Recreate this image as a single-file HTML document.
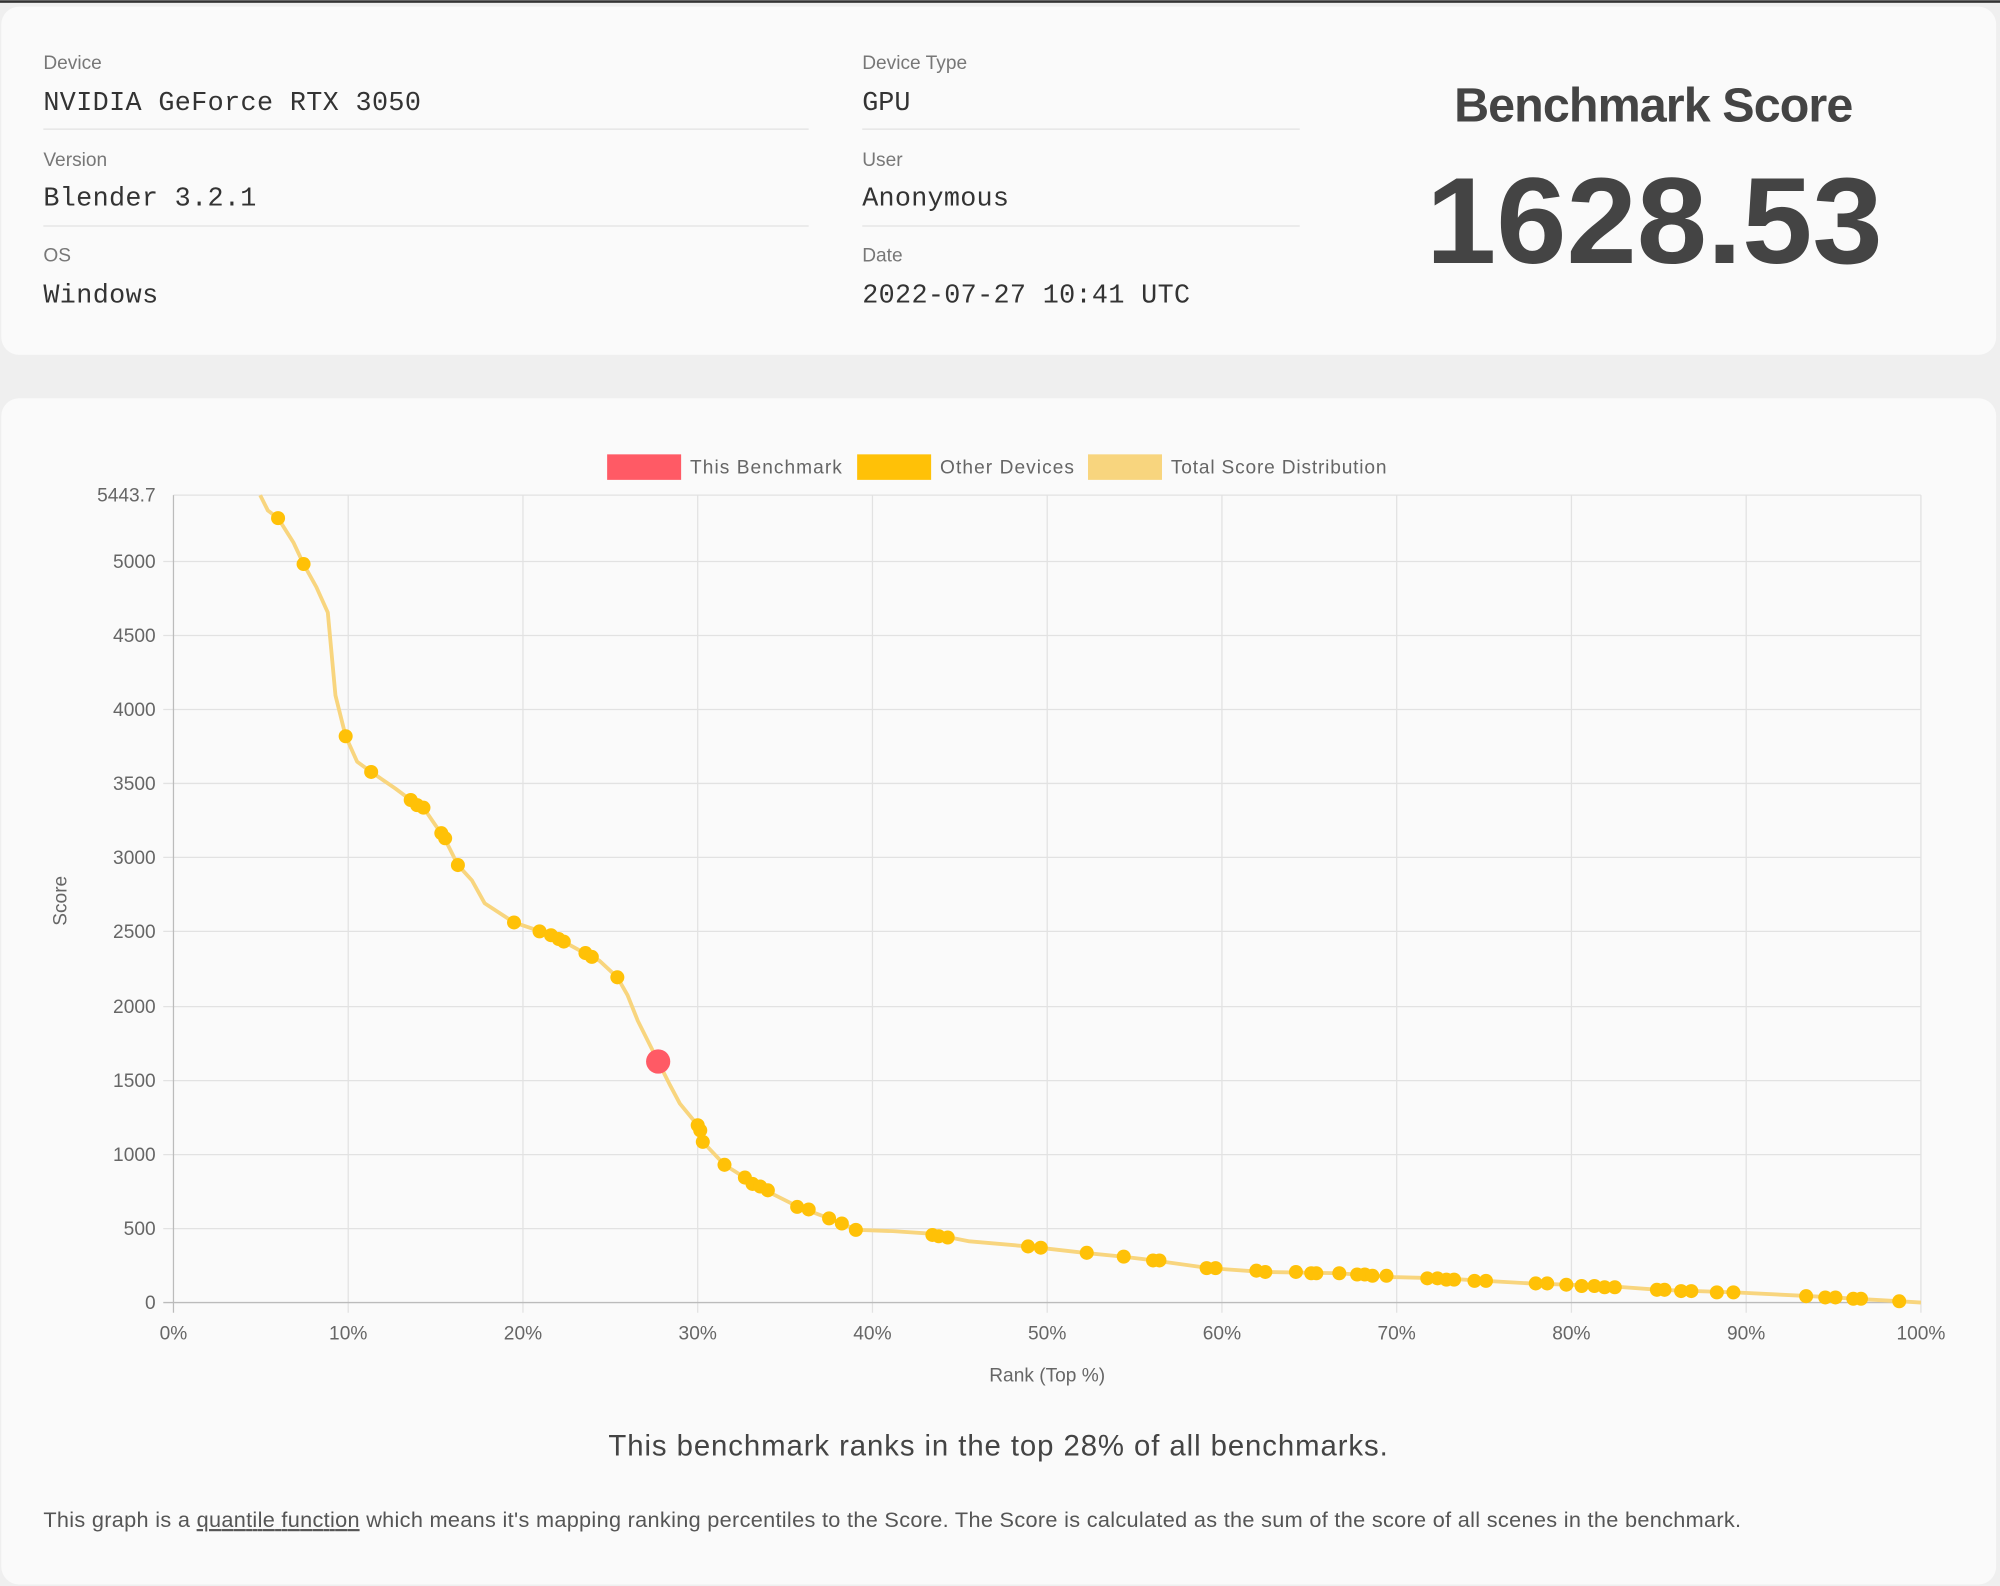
<!DOCTYPE html>
<html><head><meta charset="utf-8"><style>
html,body{margin:0;padding:0;background:#efefef;}
svg{display:block}
.lbl{font-family:"Liberation Sans",sans-serif;font-size:15px;fill:#777}
.val{font-family:"Liberation Mono",monospace;font-size:21px;fill:#333}
.tick{font-family:"Liberation Sans",sans-serif;font-size:15px;fill:#666}
</style></head><body>
<svg width="2000" height="1586" viewBox="0 0 1568 1243" xmlns="http://www.w3.org/2000/svg">
<rect x="0" y="0" width="1568" height="1243" fill="#efefef"/>
<rect x="0" y="0" width="1568" height="2" fill="#333"/>
<rect x="1" y="5" width="1564" height="273" rx="14" fill="#fafafa"/>
<rect x="1" y="312" width="1564" height="930" rx="14" fill="#fafafa"/>
<text class="lbl" x="34" y="54">Device</text>
<text class="val" x="34" y="86" textLength="296">NVIDIA GeForce RTX 3050</text>
<line x1="34" y1="101" x2="634" y2="101" stroke="#e2e2e2"/>
<text class="lbl" x="34" y="130">Version</text>
<text class="val" x="34" y="161" textLength="167">Blender 3.2.1</text>
<line x1="34" y1="177" x2="634" y2="177" stroke="#e2e2e2"/>
<text class="lbl" x="34" y="205">OS</text>
<text class="val" x="34" y="237" textLength="90">Windows</text>
<text class="lbl" x="676" y="54">Device Type</text>
<text class="val" x="676" y="86">GPU</text>
<line x1="676" y1="101" x2="1019" y2="101" stroke="#e2e2e2"/>
<text class="lbl" x="676" y="130">User</text>
<text class="val" x="676" y="161" textLength="115">Anonymous</text>
<line x1="676" y1="177" x2="1019" y2="177" stroke="#e2e2e2"/>
<text class="lbl" x="676" y="205">Date</text>
<text class="val" x="676" y="237" textLength="257">2022-07-27 10:41 UTC</text>
<text x="1140" y="95" textLength="313" font-family="Liberation Sans,sans-serif" font-weight="bold" font-size="38" fill="#444">Benchmark Score</text>
<text x="1118" y="206" textLength="358" lengthAdjust="spacingAndGlyphs" font-family="Liberation Sans,sans-serif" font-weight="bold" font-size="96" fill="#444">1628.53</text>

<!-- legend -->
<rect x="476" y="356" width="58" height="20" fill="#ff5a65"/>
<text class="tick" x="541" y="371" font-size="16" textLength="119">This Benchmark</text>
<rect x="672" y="356" width="58" height="20" fill="#ffc107"/>
<text class="tick" x="737" y="371" font-size="16" textLength="105">Other Devices</text>
<rect x="853" y="356" width="58" height="20" fill="#f8d57e"/>
<text class="tick" x="918" y="371" font-size="16" textLength="169">Total Score Distribution</text>

<g stroke="#e2e2e2" stroke-width="1">
<line x1="136" y1="388" x2="1506" y2="388"/>
<line x1="128" y1="440" x2="1506" y2="440"/>
<line x1="128" y1="498" x2="1506" y2="498"/>
<line x1="128" y1="556" x2="1506" y2="556"/>
<line x1="128" y1="614" x2="1506" y2="614"/>
<line x1="128" y1="672" x2="1506" y2="672"/>
<line x1="128" y1="730" x2="1506" y2="730"/>
<line x1="128" y1="789" x2="1506" y2="789"/>
<line x1="128" y1="847" x2="1506" y2="847"/>
<line x1="128" y1="905" x2="1506" y2="905"/>
<line x1="128" y1="963" x2="1506" y2="963"/>
<line x1="273" y1="388" x2="273" y2="1029"/>
<line x1="410" y1="388" x2="410" y2="1029"/>
<line x1="547" y1="388" x2="547" y2="1029"/>
<line x1="684" y1="388" x2="684" y2="1029"/>
<line x1="821" y1="388" x2="821" y2="1029"/>
<line x1="958" y1="388" x2="958" y2="1029"/>
<line x1="1095" y1="388" x2="1095" y2="1029"/>
<line x1="1232" y1="388" x2="1232" y2="1029"/>
<line x1="1369" y1="388" x2="1369" y2="1029"/>
<line x1="1506" y1="388" x2="1506" y2="1029"/>
</g>
<line x1="136" y1="388" x2="136" y2="1029" stroke="#bbb"/>
<line x1="128" y1="1021" x2="1506" y2="1021" stroke="#bbb"/>
<g class="tick" text-anchor="end">
<text x="122" y="393">5443.7</text><text x="122" y="445">5000</text><text x="122" y="503">4500</text>
<text x="122" y="561">4000</text><text x="122" y="619">3500</text><text x="122" y="677">3000</text>
<text x="122" y="735">2500</text><text x="122" y="794">2000</text><text x="122" y="852">1500</text>
<text x="122" y="910">1000</text><text x="122" y="968">500</text><text x="122" y="1026">0</text>
</g>
<g class="tick" text-anchor="middle">
<text x="136" y="1050">0%</text><text x="273" y="1050">10%</text><text x="410" y="1050">20%</text>
<text x="547" y="1050">30%</text><text x="684" y="1050">40%</text><text x="821" y="1050">50%</text>
<text x="958" y="1050">60%</text><text x="1095" y="1050">70%</text><text x="1232" y="1050">80%</text>
<text x="1369" y="1050">90%</text><text x="1506" y="1050">100%</text>
<text x="821" y="1083">Rank (Top %)</text>
</g>
<text class="tick" transform="translate(52,706) rotate(-90)" text-anchor="middle">Score</text>

<polyline fill="none" stroke="#f8d57e" stroke-width="3" stroke-linejoin="round" points="204,388 210,400 218,406 230,425 238,442 248,460 257,480 263,545 271,577 280,597 291,605 310,618 322,627 332,633 345,652 350,660 359,678 370,690 380,708 403,723 424,730 440,737 460,748 470,753 484,766 492,780 500,800 510,820 516,832 525,850 533,865 547,882 551,895 568,913 584,923 600,933 626,946 650,955 672,964 700,965 730,967 760,973 806,977 850,982 880,985 905,988 948,994 990,997 1050,998 1090,1001 1130,1002 1200,1006 1260,1008 1300,1011 1360,1013 1420,1016 1490,1020 1506,1021"/>
<g fill="#ffc107">
<circle cx="218" cy="406" r="5.5"/><circle cx="238" cy="442" r="5.5"/><circle cx="271" cy="577" r="5.5"/>
<circle cx="291" cy="605" r="5.5"/><circle cx="322" cy="627" r="5.5"/><circle cx="327" cy="631" r="5.5"/><circle cx="332" cy="633" r="5.5"/>
<circle cx="346" cy="653" r="5.5"/><circle cx="349" cy="657" r="5.5"/><circle cx="359" cy="678" r="5.5"/>
<circle cx="403" cy="723" r="5.5"/><circle cx="423" cy="730" r="5.5"/><circle cx="432" cy="733" r="5.5"/><circle cx="438" cy="736" r="5.5"/><circle cx="442" cy="738" r="5.5"/>
<circle cx="459" cy="747" r="5.5"/><circle cx="464" cy="750" r="5.5"/><circle cx="484" cy="766" r="5.5"/>
<circle cx="547" cy="882" r="5.5"/><circle cx="549" cy="886" r="5.5"/><circle cx="551" cy="895" r="5.5"/>
<circle cx="568" cy="913" r="5.5"/><circle cx="584" cy="923" r="5.5"/><circle cx="590" cy="928" r="5.5"/><circle cx="596" cy="930" r="5.5"/><circle cx="602" cy="933" r="5.5"/>
<circle cx="625" cy="946" r="5.5"/><circle cx="634" cy="948" r="5.5"/><circle cx="650" cy="955" r="5.5"/><circle cx="660" cy="959" r="5.5"/><circle cx="671" cy="964" r="5.5"/>
<circle cx="731" cy="968" r="5.5"/><circle cx="736" cy="969" r="5.5"/><circle cx="743" cy="970" r="5.5"/>
<circle cx="806" cy="977" r="5.5"/><circle cx="816" cy="978" r="5.5"/><circle cx="852" cy="982" r="5.5"/><circle cx="881" cy="985" r="5.5"/>
<circle cx="904" cy="988" r="5.5"/><circle cx="909" cy="988" r="5.5"/><circle cx="946" cy="994" r="5.5"/><circle cx="953" cy="994" r="5.5"/>
<circle cx="985" cy="996" r="5.5"/><circle cx="992" cy="997" r="5.5"/><circle cx="1016" cy="997" r="5.5"/><circle cx="1028" cy="998" r="5.5"/><circle cx="1032" cy="998" r="5.5"/>
<circle cx="1050" cy="998" r="5.5"/><circle cx="1064" cy="999" r="5.5"/><circle cx="1070" cy="999" r="5.5"/><circle cx="1076" cy="1000" r="5.5"/><circle cx="1087" cy="1000" r="5.5"/>
<circle cx="1119" cy="1002" r="5.5"/><circle cx="1127" cy="1002" r="5.5"/><circle cx="1134" cy="1003" r="5.5"/><circle cx="1140" cy="1003" r="5.5"/>
<circle cx="1156" cy="1004" r="5.5"/><circle cx="1165" cy="1004" r="5.5"/><circle cx="1204" cy="1006" r="5.5"/><circle cx="1213" cy="1006" r="5.5"/>
<circle cx="1228" cy="1007" r="5.5"/><circle cx="1240" cy="1008" r="5.5"/><circle cx="1250" cy="1008" r="5.5"/><circle cx="1258" cy="1009" r="5.5"/><circle cx="1266" cy="1009" r="5.5"/>
<circle cx="1299" cy="1011" r="5.5"/><circle cx="1305" cy="1011" r="5.5"/><circle cx="1318" cy="1012" r="5.5"/><circle cx="1326" cy="1012" r="5.5"/>
<circle cx="1346" cy="1013" r="5.5"/><circle cx="1359" cy="1013" r="5.5"/><circle cx="1416" cy="1016" r="5.5"/><circle cx="1431" cy="1017" r="5.5"/><circle cx="1439" cy="1017" r="5.5"/>
<circle cx="1453" cy="1018" r="5.5"/><circle cx="1459" cy="1018" r="5.5"/><circle cx="1489" cy="1020" r="5.5"/>
</g>
<circle cx="516" cy="832" r="9.5" fill="#ff5a65"/>

<text x="477" y="1141" textLength="611" font-family="Liberation Sans,sans-serif" font-size="23" fill="#444">This benchmark ranks in the top 28% of all benchmarks.</text>
<text x="34" y="1197" textLength="1331" font-family="Liberation Sans,sans-serif" font-size="17" fill="#555">This graph is a <tspan text-decoration="underline">quantile function</tspan> which means it's mapping ranking percentiles to the Score. The Score is calculated as the sum of the score of all scenes in the benchmark.</text>
</svg>
</body></html>
